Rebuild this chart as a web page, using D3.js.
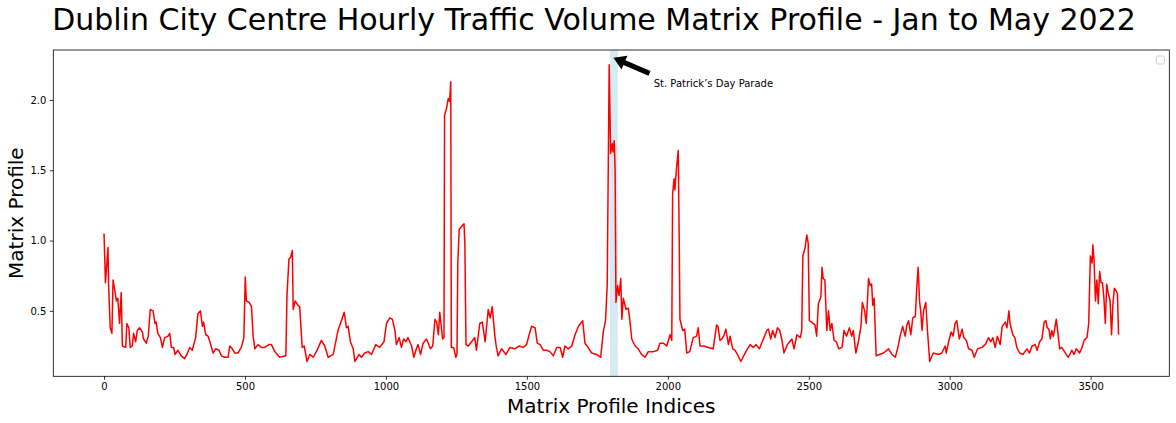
<!DOCTYPE html>
<html>
<head>
<meta charset="utf-8">
<script src="https://cdn.jsdelivr.net/npm/d3@7"></script>
<style>
    body { margin: 0; background: #fff; }
    svg text { font-family: "DejaVu Sans", sans-serif; fill: #000; }
</style>
</head>
<body>
<svg id="profile"></svg>
<script>
//DATA
const mpIndex = [
    0, 5, 14, 16, 22, 28, 32, 38, 44, 49, 55, 61, 65, 77, 81, 88, 93, 100, 105, 112,
    118, 126, 136, 140, 150, 157, 164, 174, 181, 185, 191, 200, 207, 215, 227, 233, 239, 247, 252, 262,
    274, 286, 294, 304, 313, 325, 333, 342, 349, 353, 361, 369, 377, 387, 396, 408, 416, 428, 440, 446,
    455, 464, 475, 487, 496, 501, 505, 515, 523, 529, 535, 546, 558, 570, 585, 594, 606, 623, 645, 649,
    656, 662, 668, 671, 678, 688, 694, 703, 710, 720, 730, 742, 756, 771, 783, 795, 813, 830, 842, 852,
    860, 866, 874, 884, 890, 905, 913, 925, 937, 949, 964, 978, 993, 1002, 1014, 1023, 1032, 1037, 1047, 1055,
    1063, 1072, 1078, 1091, 1099, 1108, 1114, 1123, 1132, 1144, 1158, 1166, 1174, 1180, 1186, 1191, 1201, 1206, 1208, 1215,
    1221, 1226, 1230, 1232, 1240, 1248, 1252, 1255, 1260, 1268, 1277, 1280, 1284, 1292, 1304, 1315, 1321, 1333, 1342, 1352,
    1363, 1370, 1377, 1387, 1392, 1398, 1410, 1426, 1440, 1457, 1473, 1487, 1499, 1508, 1517, 1529, 1537, 1547, 1558, 1570,
    1582, 1594, 1606, 1618, 1627, 1635, 1647, 1659, 1671, 1683, 1698, 1706, 1717, 1730, 1747, 1762, 1771, 1779, 1785, 1792,
    1797, 1803, 1806, 1810, 1813, 1816, 1822, 1827, 1833, 1837, 1842, 1852, 1860, 1866, 1872, 1884, 1895, 1907, 1919, 1931,
    1949, 1964, 1972, 1984, 1996, 2008, 2014, 2017, 2022, 2025, 2031, 2037, 2041, 2043, 2053, 2060, 2067, 2078, 2090, 2102,
    2108, 2114, 2128, 2144, 2161, 2173, 2178, 2185, 2192, 2198, 2206, 2215, 2221, 2230, 2238, 2247, 2259, 2269, 2280, 2292,
    2303, 2313, 2325, 2339, 2351, 2357, 2365, 2372, 2380, 2389, 2397, 2404, 2412, 2424, 2440, 2448, 2458, 2470, 2475, 2479,
    2487, 2493, 2498, 2502, 2510, 2522, 2528, 2534, 2543, 2547, 2551, 2557, 2564, 2570, 2576, 2582, 2590, 2598, 2606, 2618,
    2625, 2634, 2644, 2652, 2658, 2667, 2676, 2685, 2690, 2698, 2704, 2712, 2718, 2723, 2727, 2732, 2739, 2751, 2765, 2783,
    2795, 2807, 2815, 2824, 2833, 2842, 2848, 2854, 2862, 2869, 2878, 2883, 2888, 2893, 2897, 2902, 2907, 2915, 2921, 2929,
    2935, 2942, 2960, 2972, 2984, 2988, 2996, 3005, 3012, 3019, 3025, 3034, 3044, 3050, 3059, 3067, 3079, 3087, 3099, 3114,
    3126, 3138, 3145, 3153, 3161, 3169, 3179, 3186, 3197, 3203, 3210, 3214, 3224, 3231, 3238, 3248, 3260, 3274, 3283, 3292,
    3303, 3310, 3319, 3327, 3335, 3341, 3346, 3352, 3357, 3362, 3368, 3378, 3384, 3390, 3397, 3404, 3413, 3421, 3433, 3441,
    3449, 3461, 3469, 3477, 3487, 3493, 3499, 3505, 3508, 3512, 3517, 3522, 3527, 3532, 3537, 3542, 3547, 3552, 3557, 3562,
    3569, 3574, 3579, 3584, 3591, 3595, 3599
];
const mpValue = [
    1.05, 0.70, 0.95, 0.70, 0.38, 0.34, 0.72, 0.65, 0.57, 0.59, 0.41, 0.63, 0.25, 0.24, 0.41, 0.38, 0.24, 0.25, 0.34, 0.28,
    0.36, 0.38, 0.35, 0.30, 0.27, 0.32, 0.51, 0.50, 0.41, 0.42, 0.34, 0.31, 0.24, 0.31, 0.32, 0.34, 0.24, 0.24, 0.19, 0.22,
    0.18, 0.16, 0.19, 0.24, 0.22, 0.31, 0.48, 0.50, 0.39, 0.42, 0.33, 0.32, 0.27, 0.20, 0.23, 0.22, 0.18, 0.17, 0.17, 0.25,
    0.23, 0.20, 0.20, 0.24, 0.31, 0.74, 0.57, 0.56, 0.53, 0.32, 0.23, 0.26, 0.24, 0.24, 0.26, 0.26, 0.21, 0.17, 0.18, 0.61,
    0.87, 0.88, 0.93, 0.51, 0.57, 0.54, 0.53, 0.24, 0.25, 0.14, 0.19, 0.17, 0.22, 0.29, 0.25, 0.17, 0.19, 0.36, 0.43, 0.49,
    0.38, 0.39, 0.28, 0.23, 0.14, 0.19, 0.17, 0.20, 0.21, 0.19, 0.26, 0.24, 0.28, 0.41, 0.45, 0.44, 0.36, 0.26, 0.31, 0.24,
    0.30, 0.28, 0.31, 0.25, 0.17, 0.23, 0.26, 0.19, 0.27, 0.30, 0.23, 0.25, 0.44, 0.42, 0.33, 0.49, 0.30, 0.31, 1.89, 1.94,
    2.01, 1.99, 2.13, 0.24, 0.24, 0.17, 0.19, 0.84, 1.08, 1.10, 1.12, 0.98, 0.26, 0.25, 0.28, 0.31, 0.22, 0.41, 0.42, 0.28,
    0.51, 0.45, 0.53, 0.31, 0.24, 0.18, 0.23, 0.19, 0.24, 0.23, 0.25, 0.24, 0.26, 0.33, 0.39, 0.38, 0.27, 0.26, 0.22, 0.22,
    0.21, 0.18, 0.24, 0.24, 0.17, 0.25, 0.23, 0.25, 0.33, 0.39, 0.43, 0.27, 0.24, 0.20, 0.19, 0.17, 0.35, 0.43, 0.68, 2.25,
    1.62, 1.69, 1.63, 1.71, 1.50, 0.56, 0.68, 0.61, 0.73, 0.44, 0.59, 0.51, 0.52, 0.42, 0.30, 0.25, 0.23, 0.19, 0.17, 0.21,
    0.21, 0.22, 0.27, 0.27, 0.25, 0.33, 0.29, 1.33, 1.44, 1.36, 1.52, 1.64, 0.90, 0.44, 0.36, 0.37, 0.20, 0.21, 0.31, 0.32,
    0.38, 0.25, 0.25, 0.24, 0.23, 0.40, 0.39, 0.29, 0.30, 0.32, 0.37, 0.26, 0.32, 0.23, 0.22, 0.19, 0.14, 0.18, 0.22, 0.26,
    0.24, 0.26, 0.23, 0.30, 0.36, 0.37, 0.30, 0.36, 0.31, 0.38, 0.36, 0.30, 0.20, 0.26, 0.30, 0.23, 0.33, 0.31, 0.36, 0.89,
    0.95, 1.04, 0.98, 0.43, 0.42, 0.40, 0.32, 0.55, 0.60, 0.81, 0.73, 0.72, 0.36, 0.50, 0.36, 0.41, 0.29, 0.28, 0.23, 0.24,
    0.36, 0.32, 0.38, 0.32, 0.36, 0.20, 0.28, 0.39, 0.56, 0.50, 0.41, 0.73, 0.68, 0.69, 0.54, 0.59, 0.18, 0.19, 0.20, 0.23,
    0.19, 0.17, 0.23, 0.32, 0.39, 0.32, 0.40, 0.43, 0.33, 0.45, 0.46, 0.66, 0.81, 0.57, 0.50, 0.36, 0.50, 0.56, 0.36, 0.14,
    0.17, 0.20, 0.19, 0.20, 0.25, 0.20, 0.28, 0.35, 0.32, 0.41, 0.43, 0.30, 0.37, 0.31, 0.29, 0.23, 0.22, 0.17, 0.23, 0.24,
    0.26, 0.31, 0.28, 0.31, 0.24, 0.32, 0.26, 0.39, 0.42, 0.38, 0.50, 0.41, 0.33, 0.31, 0.24, 0.20, 0.19, 0.23, 0.20, 0.25,
    0.26, 0.22, 0.28, 0.30, 0.42, 0.43, 0.38, 0.37, 0.30, 0.36, 0.32, 0.44, 0.34, 0.23, 0.24, 0.22, 0.19, 0.17, 0.22, 0.19,
    0.23, 0.20, 0.24, 0.29, 0.31, 0.41, 0.89, 0.84, 0.97, 0.86, 0.57, 0.72, 0.55, 0.78, 0.70, 0.70, 0.59, 0.41, 0.69, 0.63,
    0.57, 0.33, 0.55, 0.66, 0.64, 0.62, 0.33
];
const xTicks = [0, 500, 1000, 1500, 2000, 2500, 3000, 3500];
const yTicks = [0.5, 1.0, 1.5, 2.0];
const paradeSpan = [1795, 1823];
const arrowTip = [1807, 2.30];
const arrowTail = [1935, 2.19];
const labelPos = [1950, 2.09];
const labelText = 'St. Patrick’s Day Parade';
const titleText = 'Dublin City Centre Hourly Traffic Volume Matrix Profile - Jan to May 2022';

const margin = {t: 50, r: 6.7, b: 46.7, l: 53.3};
const size = {w: 1176, h: 423};
const svg = d3.select('svg#profile');

svg.attr('width', size.w)
    .attr('height', size.h);

const containerG = svg.append('g')
    .classed('container', true)
    .attr('transform', `translate(${margin.l}, ${margin.t})`);
const innerW = size.w - margin.l - margin.r;
const innerH = size.h - margin.t - margin.b;

const data = mpIndex.map((d, i) => ({i: d, v: mpValue[i]}));

//SCALES (matplotlib style 5% padding)
const xPad = (d3.max(mpIndex) - d3.min(mpIndex)) * 0.05;
const yPad = (d3.max(mpValue) - d3.min(mpValue)) * 0.05;
const x = d3.scaleLinear()
    .domain([d3.min(mpIndex) - xPad, d3.max(mpIndex) + xPad])
    .range([0, innerW]);
const y = d3.scaleLinear()
    .domain([d3.min(mpValue) - yPad, d3.max(mpValue) + yPad])
    .range([innerH, 0]);

drawSpan();
drawLine();
drawAxes();
drawAnnotation();
drawLegend();
drawTexts();

//--------FUNCTIONS--------

//HIGHLIGHT SPAN
function drawSpan(){
    containerG.append('rect')
        .attr('x', x(paradeSpan[0]))
        .attr('y', 0)
        .attr('width', x(paradeSpan[1]) - x(paradeSpan[0]))
        .attr('height', innerH)
        .attr('fill', 'lightblue')
        .attr('opacity', 0.5);
}

//MATRIX PROFILE LINE
function drawLine(){
    const line = d3.line()
        .x(d => x(d.i))
        .y(d => y(d.v));

    containerG.append('path')
        .datum(data)
        .attr('d', line)
        .attr('fill', 'none')
        .attr('stroke', 'red')
        .attr('stroke-width', 1.5)
        .attr('stroke-linejoin', 'round');
}

//AXES + FRAME
function drawAxes(){
    const xAxis = containerG.append('g')
        .attr('transform', `translate(0, ${innerH})`)
        .call(d3.axisBottom(x).tickValues(xTicks).tickSize(3.5).tickPadding(3.5).tickFormat(d3.format('d')));
    const yAxis = containerG.append('g')
        .call(d3.axisLeft(y).tickValues(yTicks).tickSize(3.5).tickPadding(3.5).tickFormat(d3.format('.1f')));

    [xAxis, yAxis].forEach(a => {
        a.select('.domain').remove();
        a.selectAll('line').attr('stroke', '#000').attr('stroke-width', 0.8);
        a.selectAll('text').style('font-size', '10px').attr('fill', '#000');
    });

    containerG.append('rect')
        .attr('width', innerW)
        .attr('height', innerH)
        .attr('fill', 'none')
        .attr('stroke', '#000')
        .attr('stroke-width', 0.8);
}

//ARROW + LABEL
function drawAnnotation(){
    const tx = x(arrowTip[0]), ty = y(arrowTip[1]);
    const sx = x(arrowTail[0]), sy = y(arrowTail[1]);
    const len = Math.hypot(tx - sx, ty - sy);
    const ang = Math.atan2(ty - sy, tx - sx) * 180 / Math.PI;
    const hw = 7.5, hl = 12, sw = 2.6;

    containerG.append('path')
        .attr('transform', `translate(${sx}, ${sy}) rotate(${ang})`)
        .attr('d', `M0,${-sw} L${len - hl},${-sw} L${len - hl},${-hw} L${len},0 L${len - hl},${hw} L${len - hl},${sw} L0,${sw} Z`)
        .attr('fill', '#000');

    containerG.append('text')
        .attr('x', x(labelPos[0]))
        .attr('y', y(labelPos[1]))
        .style('font-size', '10px')
        .text(labelText);
}

//EMPTY LEGEND BOX
function drawLegend(){
    containerG.append('rect')
        .attr('x', innerW - 13)
        .attr('y', 6)
        .attr('width', 8)
        .attr('height', 8)
        .attr('rx', 1.5)
        .attr('fill', '#fff')
        .attr('stroke', '#ccc')
        .attr('stroke-width', 1);
}

//TITLE + AXIS LABELS
function drawTexts(){
    svg.append('text')
        .attr('x', 594)
        .attr('y', 30)
        .style('text-anchor', 'middle')
        .style('font-size', '30px')
        .text(titleText);

    svg.append('text')
        .attr('x', margin.l + innerW / 2)
        .attr('y', 413)
        .style('text-anchor', 'middle')
        .style('font-size', '20px')
        .text('Matrix Profile Indices');

    svg.append('text')
        .attr('transform', `translate(22.5, ${margin.t + innerH / 2}) rotate(-90)`)
        .style('text-anchor', 'middle')
        .style('font-size', '20px')
        .text('Matrix Profile');
}
</script>
</body>
</html>
